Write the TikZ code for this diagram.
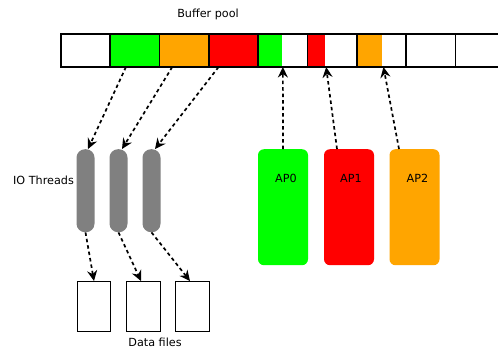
\documentclass[tikz,border=0pt]{standalone}
\usepackage{fontspec}
\setmainfont{DejaVu Sans}
\usetikzlibrary{arrows.meta,positioning}
\definecolor{apgreen}{RGB}{0,255,0}
\definecolor{apred}{RGB}{255,0,0}
\definecolor{aporange}{RGB}{255,165,0}
\definecolor{threadgray}{RGB}{128,128,128}
\tikzset{
  cell/.style={draw=black, line width=1.7bp, minimum width=49.3bp, minimum height=33bp,
    inner sep=0pt, outer sep=0pt, anchor=west},
  thread/.style={fill=threadgray, draw=none, rounded corners=8.5bp, minimum width=18bp,
    minimum height=83bp, inner sep=0pt, anchor=north},
  apbox/.style={draw=none, rounded corners=6bp, minimum width=50bp, minimum height=116bp,
    inner sep=0pt, anchor=north},
  filebox/.style={draw=black, line width=1.4bp, fill=white, minimum width=33.5bp,
    minimum height=50bp, inner sep=0pt, anchor=north},
  lbl/.style={font=\fontsize{11.2bp}{13bp}\selectfont, inner sep=0pt},
  flow/.style={-{Stealth[length=10.5bp,width=10bp,inset=3.5bp]}, line width=1.7bp,
    dash pattern=on 3.5bp off 3bp},
}
\begin{document}
\begin{tikzpicture}[x=1bp,y=-1bp]
  \useasboundingbox[fill=white] (0,0) rectangle (498,348);

  % buffer pool row
  \node[cell]                (c1) at (61,50.5) {};
  \node[cell, fill=apgreen]  (c2) at (c1.east) {};
  \node[cell, fill=aporange] (c3) at (c2.east) {};
  \node[cell, fill=apred]    (c4) at (c3.east) {};
  \node[cell]                (c5) at (c4.east) {};
  \node[cell]                (c6) at (c5.east) {};
  \node[cell]                (c7) at (c6.east) {};
  \node[cell]                (c8) at (c7.east) {};
  \node[cell]                (c9) at (c8.east) {};
  % partly filled pages
  \fill[apgreen]  ([xshift=0.85bp,yshift=-0.85bp]c5.north west) rectangle (282,66.15);
  \fill[apred]    ([xshift=0.85bp,yshift=-0.85bp]c6.north west) rectangle (325,66.15);
  \fill[aporange] ([xshift=0.85bp,yshift=-0.85bp]c7.north west) rectangle (382,66.15);

  \node[lbl] (pooltitle) at (208,14) {Buffer pool};

  % IO threads
  \node[thread] (t1) at (85.5,149) {};
  \node[thread] (t2) at (118.5,149) {};
  \node[thread] (t3) at (151.5,149) {};
  \node[lbl] (iolabel) at (43.5,180) {IO Threads};

  % data files
  \node[filebox] (f1) at (94,281) {};
  \node[filebox] (f2) at (143.5,281) {};
  \node[filebox] (f3) at (192.5,281) {};
  \node[lbl] (fileslabel) at (155,342) {Data files};

  % application threads
  \node[apbox, fill=apgreen]  (ap0) at (283,149) {};
  \node[apbox, fill=apred]    (ap1) at (349,149) {};
  \node[apbox, fill=aporange] (ap2) at (414.5,149) {};
  \node[lbl] at ([xshift=3bp,yshift=-29bp]ap0.north) {AP0};
  \node[lbl] at ([xshift=2bp,yshift=-29bp]ap1.north) {AP1};
  \node[lbl] at ([xshift=3bp,yshift=-29bp]ap2.north) {AP2};

  % flushing: pool pages to IO threads
  \draw[flow] ([xshift=-9bp]c2.south) -- ([xshift=2.5bp]t1.north);
  \draw[flow] ([xshift=-12bp]c3.south) -- ([xshift=3.5bp]t2.north);
  \draw[flow] ([xshift=-15bp]c4.south) -- ([xshift=3.5bp]t3.north);

  % IO threads to data files
  \draw[flow] (t1.south) -- (f1.north);
  \draw[flow] (t2.south) -- ([xshift=-2.5bp]f2.north);
  \draw[flow] (t3.south) -- ([xshift=-2.5bp]f3.north);

  % application threads into the pool
  \draw[flow] (ap0.north) -- (c5.south);
  \draw[flow] ([xshift=-12bp]ap1.north) -- ([xshift=-6bp]c6.south);
  \draw[flow] ([xshift=-15.5bp]ap2.north) -- ([xshift=2bp]c7.south);
\end{tikzpicture}
\end{document}
